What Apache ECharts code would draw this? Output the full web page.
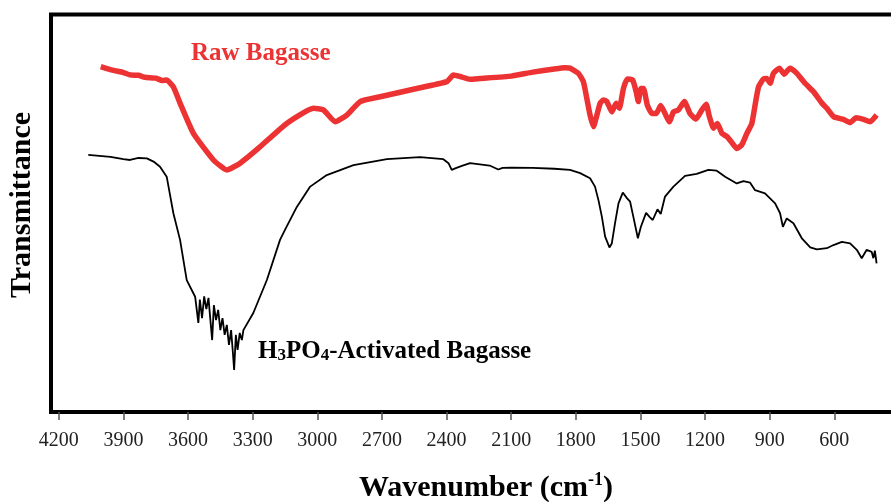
<!DOCTYPE html>
<html><head><meta charset="utf-8">
<script src="https://cdn.jsdelivr.net/npm/echarts@6/dist/echarts.min.js"></script>
<style>html,body{margin:0;padding:0;background:#fff}#c{width:891px;height:502px}</style>
</head><body><div id="c"></div>
<script>
const tickValues = [4200, 3900, 3600, 3300, 3000, 2700, 2400, 2100, 1800, 1500, 1200, 900, 600];

const rawWave = [4005,3950,3900,3869,3830,3800,3750,3720,3699,3668,3637,3575,3482,3420,3358,3266,3142,3018,2972,2917,2863,2801,2708,2554,2399,2368,2337,2291,2244,2100,2000,1900,1850,1827,1788,1765,1749,1734,1718,1706,1687,1672,1656,1633,1613,1598,1579,1561,1536,1520,1510,1498,1486,1468,1447,1427,1406,1386,1366,1347,1324,1296,1270,1242,1215,1195,1180,1161,1143,1122,1099,1076,1053,1030,1006,983,968,952,929,914,898,883,855,833,806,774,736,697,674,658,635,604,558,527,499,465,434,404];
const rawT = [86.9,86.0,85.4,84.8,84.7,84.2,84.0,83.4,83.5,81.8,77.7,70.1,63.4,60.9,62.6,66.7,72.6,76.4,76.0,73.0,74.7,78.1,79.3,81.2,83.1,84.8,84.4,83.7,83.9,84.5,85.5,86.3,86.6,86.5,85.2,83.1,78.9,74.7,71.8,73.9,77.7,78.5,78.1,75.5,77.7,76.4,81.4,83.8,83.5,80.6,78.1,81.4,81.4,77.2,75.1,75.1,77.1,75.1,73.0,75.5,76.0,78.1,75.1,73.7,76.0,77.4,74.3,71.4,72.6,70.1,69.3,67.8,66.3,67.2,70.1,72.6,77.2,81.8,83.8,83.9,82.7,85.2,86.5,85.0,86.5,85.2,82.7,80.6,78.9,77.7,76.4,74.3,73.6,72.8,74.0,73.6,73.0,74.7];

const actWave = [4063,3960,3900,3869,3830,3791,3760,3730,3699,3668,3637,3606,3567,3560,3552,3545,3535,3525,3515,3505,3497,3488,3480,3470,3460,3450,3440,3430,3420,3410,3400,3392,3386,3378,3370,3360,3350,3343,3297,3234,3173,3150,3095,3033,2956,2832,2677,2523,2415,2391,2376,2360,2329,2291,2200,2160,2140,2100,2000,1900,1827,1780,1734,1711,1695,1679,1664,1644,1633,1618,1602,1582,1563,1548,1533,1512,1498,1474,1458,1443,1421,1406,1386,1347,1293,1239,1185,1146,1107,1053,1022,991,968,922,875,852,839,821,790,751,712,681,635,604,565,527,496,473,450,427,419,412,404];
const actT = [64.7,64.2,63.6,63.4,63.9,63.8,63.0,61.7,59.2,50.0,43.3,33.2,29.0,29.0,22.4,28.3,23.6,29.1,25.9,28.7,23.6,18.1,26.9,23.1,25.7,20.6,23.6,19.4,21.9,16.9,20.6,15.1,10.6,19.4,15.6,19.9,18.1,20.6,24.9,33.2,43.3,45.8,51.6,56.7,59.6,62.1,63.6,64.1,63.6,62.6,60.9,61.3,61.9,62.6,62.0,61.0,61.4,61.5,61.4,61.2,60.9,60.1,58.8,56.7,53.3,49.1,44.1,41.4,42.4,47.5,52.5,55.2,53.8,52.9,49.1,43.7,46.6,50.1,49.1,48.3,51.0,49.8,54.2,56.7,59.4,59.9,60.9,60.7,59.2,57.5,58.1,57.7,55.8,55.0,52.5,50.0,46.6,48.7,47.5,43.7,41.4,40.9,41.2,42.0,42.8,42.4,40.8,38.7,40.8,40.3,38.7,40.6,37.4];

const rawData = rawWave.map((w, i) => [w, rawT[i]]);
const actData = actWave.map((w, i) => [w, actT[i]]);

const chart = echarts.init(document.getElementById('c'), null, {renderer: 'canvas'});
const serif = '"Liberation Serif", "Times New Roman", serif';
chart.setOption({
  animation: false,
  grid: {left: 51, top: 14.5, bottom: 90, width: 848, show: true, borderWidth: 4, borderColor: '#000', containLabel: false, outerBoundsMode: 'none'},
  xAxis: {
    type: 'value', min: 300, max: 4236, inverse: true,
    axisLine: {show: false},
    splitLine: {show: false},
    axisTick: {show: true, customValues: tickValues, length: 8, lineStyle: {color: '#555', width: 1.5}},
    axisLabel: {customValues: tickValues, margin: 19, fontFamily: serif, fontSize: 20, color: '#222', formatter: v => String(v)}
  },
  yAxis: {type: 'value', min: 0, max: 100, show: false},
  series: [
    {name: 'Raw Bagasse', type: 'line', data: rawData, showSymbol: false, smooth: 0.15,
     lineStyle: {color: '#ec3232', width: 5.5}},
    {name: 'H3PO4-Activated Bagasse', type: 'line', data: actData, showSymbol: false, smooth: false,
     lineStyle: {color: '#000', width: 1.8}}
  ],
  graphic: [
    {type: 'text', left: 191, top: 41, style: {text: 'Raw Bagasse', fill: '#ec3232', font: 'bold 25px ' + serif}},
    {type: 'text', left: 258, top: 339, style: {
      text: '{b|H}{s|3}{b|PO}{s|4}{b|-Activated Bagasse}',
      rich: {b: {font: 'bold 25px ' + serif, fill: '#000'}, s: {font: 'bold 17px ' + serif, fill: '#000', padding: [9, 0, 0, 0]}}
    }},
    {type: 'text', x: 22, y: 205, rotation: Math.PI / 2, style: {text: 'Transmittance', align: 'center', verticalAlign: 'middle', fill: '#000', font: 'bold 30px ' + serif}},
    {type: 'text', x: 486, y: 488, style: {
      text: '{b|Wavenumber (cm}{s|-1}{b|)}', align: 'center', verticalAlign: 'middle',
      rich: {b: {font: 'bold 30px ' + serif, fill: '#000'}, s: {font: 'bold 18px ' + serif, fill: '#000', padding: [0, 0, 15, 0]}}
    }}
  ]
});
</script></body></html>
